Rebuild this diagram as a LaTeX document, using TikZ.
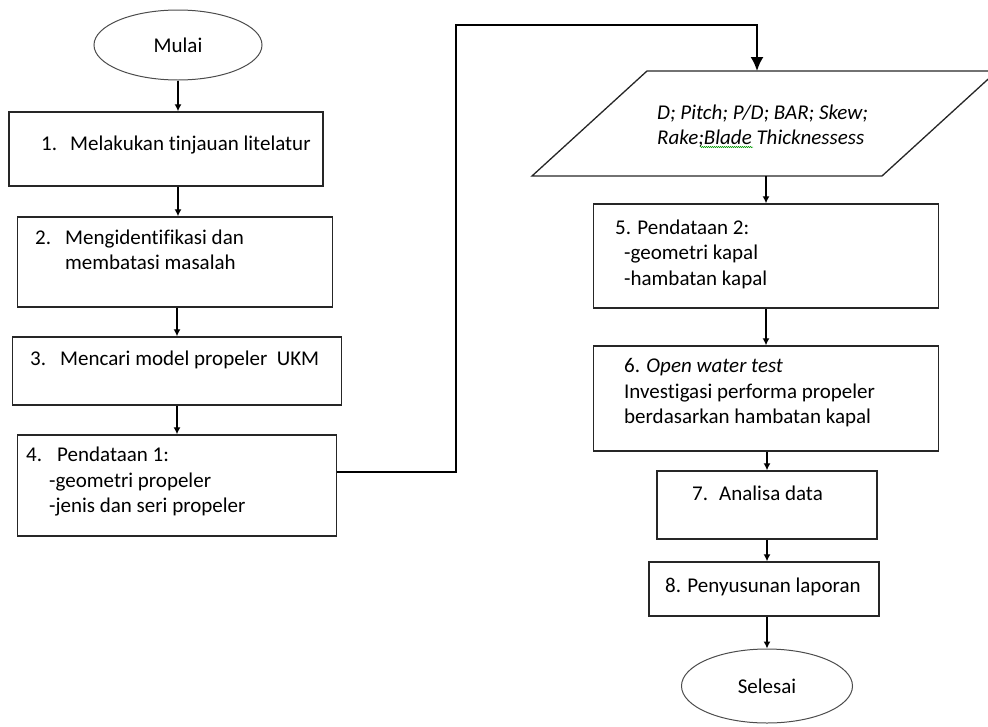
\documentclass[tikz,border=0pt]{standalone}
\usepackage{fontspec}
\setmainfont{Carlito}[Ligatures=NoCommon]
\usetikzlibrary{shapes.geometric, arrows.meta, decorations.pathmorphing}

\tikzset{
    kotak/.style={draw=black!85, line width=1.4pt, rectangle, inner sep=0pt},
    oval/.style={draw=black!70, line width=1pt, ellipse, inner sep=0pt, font=\fontsize{21}{25.5}\selectfont},
    teks/.style={anchor=west, align=left, inner sep=0pt, font=\fontsize{21}{25.5}\selectfont},
    panah/.style={-{Latex[length=7pt, width=7pt]}, line width=1.3pt},
    panahbesar/.style={-{Latex[length=14pt, width=13pt]}, line width=2pt}
}

\begin{document}
\begin{tikzpicture}[x=1pt, y=-1pt]

    \useasboundingbox (0,0) rectangle (988,726);
    \clip (0,0) rectangle (988,726);

    % 1. Kolom kiri
    \node[oval, minimum width=168pt, minimum height=70pt] (mulai) at (178,45) {Mulai};

    \node[kotak, minimum width=314pt, minimum height=74pt] (b1) at (166,149) {};
    \node[teks] (t1) at (41,145) {\makebox[29pt][l]{1.}Melakukan tinjauan litelatur};

    \node[kotak, minimum width=315pt, minimum height=90pt] (b2) at (175,262) {};
    \node[teks] (t2) at (35,250) {\makebox[30pt][l]{2.}Mengidentifikasi dan\\\hspace*{30pt}membatasi masalah};

    \node[kotak, minimum width=329pt, minimum height=68pt] (b3) at (177,371) {};
    \node[teks] (t3) at (30,360) {\makebox[30pt][l]{3.}Mencari model propeler\ \ UKM};

    \node[kotak, minimum width=319pt, minimum height=101pt] (b4) at (177,485.5) {};
    \node[teks] (t4) at (26,482) {\makebox[31pt][l]{4.}Pendataan 1:\\\hspace*{23pt}-geometri propeler\\\hspace*{23pt}-jenis dan seri propeler};

    % 2. Data masukan (jajaran genjang)
    \coordinate (p1) at (532,176);
    \coordinate (p2) at (882,176);
    \coordinate (p3) at (997,71);
    \coordinate (p4) at (647,71);
    \draw[black!85, line width=1.3pt] (p1) -- (p2) -- (p3) -- (p4) -- cycle;
    \node[teks] (data) at (657,126) {\itshape D; Pitch; P/D; BAR; Skew;\\\itshape Rake;Blade Thicknessess};
    % garis cek ejaan di bawah ";Blade"
    \draw[green!60!black, line width=0.5pt, decorate, decoration={snake, amplitude=0.7pt, segment length=2pt}]
        (700,147) -- (753,147);
    \coordinate (belok) at (456,25);
    \coordinate (atas) at (757,71);
    \coordinate (bawah) at (766,176);

    % 3. Kolom kanan
    \node[kotak, minimum width=345pt, minimum height=104pt] (b5) at (766,256) {};
    \node[teks] (t5) at (615,254) {5. Pendataan 2:\\\hspace*{9pt}-geometri kapal\\\hspace*{9pt}-hambatan kapal};

    \node[kotak, minimum width=345pt, minimum height=105pt] (b6) at (766,398.5) {};
    \node[teks] (t6) at (624,393) {6. \textit{Open water test}\\Investigasi performa propeler\\berdasarkan hambatan kapal};

    \node[kotak, minimum width=220pt, minimum height=68pt] (b7) at (767,505) {};
    \node[teks] (t7) at (692,493) {\makebox[27pt][l]{7.}Analisa data};

    \node[kotak, minimum width=230pt, minimum height=54pt] (b8) at (764,589) {};
    \node[teks] (t8) at (665,587) {8. Penyusunan laporan};

    \node[oval, minimum width=171pt, minimum height=74pt] (selesai) at (767,686) {Selesai};

    % 4. Panah
    \draw[panah] (mulai.south) -- (mulai.south |- b1.north);
    \draw[panah] (b1.south -| mulai.south) -- (b2.north -| mulai.south);
    \draw[panah] (b2.south -| b4.north) -- (b3.north -| b4.north);
    \draw[panah] (b3.south -| b4.north) -- (b4.north);
    \draw[panahbesar] ([yshift=13.5pt]b4.east) -| (belok) -| (atas);
    \draw[panah] (bawah) -- (bawah |- b5.north);
    \draw[panah] (b5.south) -- (b6.north);
    \draw[panah] (b6.south -| b7.north) -- (b7.north);
    \draw[panah] (b7.south) -- (b7.south |- b8.north);
    \draw[panah] (b8.south -| selesai.north) -- (selesai.north);

\end{tikzpicture}
\end{document}
